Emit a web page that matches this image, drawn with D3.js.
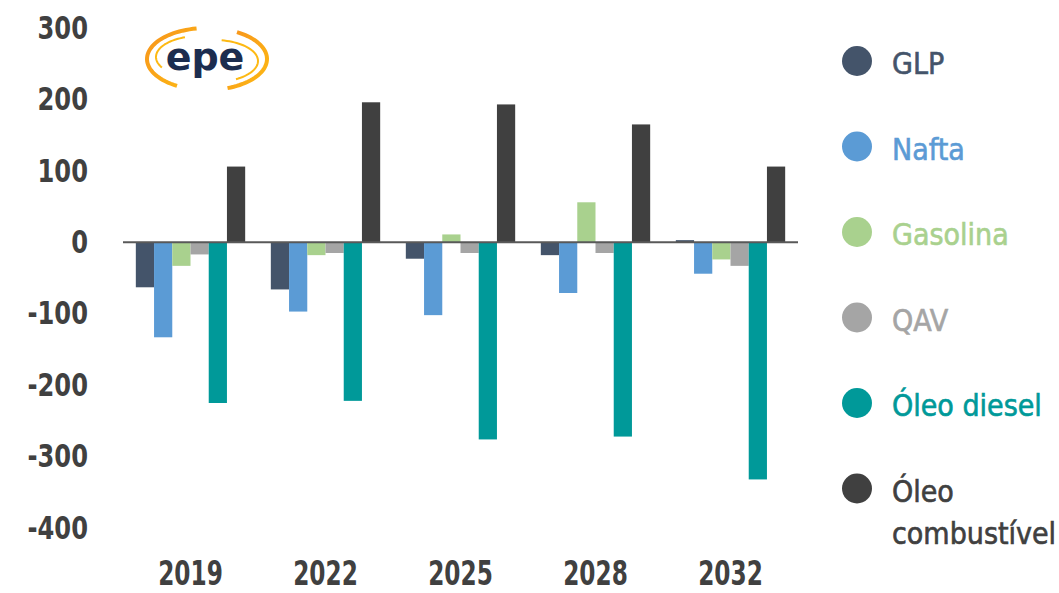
<!DOCTYPE html>
<html>
<head>
<meta charset="utf-8">
<script src="https://cdn.jsdelivr.net/npm/d3@7"></script>
<style>
  body { margin: 0; background: #fff; }
  svg { display: block; }
  .tick text { font-family: "DejaVu Sans Condensed", "DejaVu Sans", sans-serif; font-weight: bold; fill: #404040; }
</style>
</head>
<body>
<div class="chart"></div>
<script>
// data
var years = ["2019", "2022", "2025", "2028", "2032"];
var series = ["GLP", "Nafta", "Gasolina", "QAV", "Óleo diesel", "Óleo combustível"];
var glp = [-63, -66, -23, -18, 3];
var nafta = [-133, -97, -102, -71, -44];
var gasolina = [-33, -18, 11, 56, -24];
var qav = [-17, -15, -15, -15, -33];
var oleoDiesel = [-225, -222, -276, -272, -332];
var oleoComb = [106, 196, 193, 165, 106];
var yTicks = [300, 200, 100, 0, -100, -200, -300, -400];
var colors = ["#44546A", "#5B9BD5", "#A9D18E", "#A5A5A5", "#009999", "#404040"];

var values = [glp, nafta, gasolina, qav, oleoDiesel, oleoComb];
var rows = [];
years.forEach(function(yr, i) {
  series.forEach(function(s, j) {
    rows.push({year: yr, serie: s, value: values[j][i], color: colors[j]});
  });
});

var width = 1059, height = 593;

var svg = d3.select(".chart").append("svg")
    .attr("width", width)
    .attr("height", height);

var x = d3.scaleBand()
    .domain(years)
    .range([123, 798])
    .paddingInner(0.19)
    .paddingOuter(0.095);

var xs = d3.scaleBand()
    .domain(series)
    .range([0, x.bandwidth()]);

var y = d3.scaleLinear()
    .domain([-400, 300])
    .range([528, 28]);

// bars
svg.selectAll(".bar")
    .data(rows)
    .enter().append("rect")
    .attr("class", "bar")
    .attr("x", function(d) { return x(d.year) + xs(d.serie); })
    .attr("width", xs.bandwidth())
    .attr("y", function(d) { return y(Math.max(0, d.value)); })
    .attr("height", function(d) { return Math.abs(y(d.value) - y(0)); })
    .style("fill", function(d) { return d.color; });

// zero line
svg.append("line")
    .attr("x1", 123)
    .attr("x2", 798)
    .attr("y1", y(0))
    .attr("y2", y(0))
    .attr("stroke", "#595959")
    .attr("stroke-width", 2);

// y axis, labels only (squeezed to look like the narrow DIN face)
var yAxis = d3.axisLeft(y)
    .tickValues(yTicks)
    .tickSize(0)
    .tickPadding(35)
    .tickFormat(function(d) { return String(d); });

svg.append("g")
    .attr("class", "y axis")
    .attr("transform", "translate(123,0)")
    .call(yAxis)
    .call(function(g) { g.select(".domain").remove(); })
    .selectAll("text")
    .style("font-size", "32px")
    .attr("transform", "translate(-35,0) scale(0.84,1) translate(35,0)");

// x axis, labels only
var xAxis = d3.axisBottom(x)
    .tickSize(0)
    .tickPadding(0);

svg.append("g")
    .attr("class", "x axis")
    .attr("transform", "translate(0,561)")
    .call(xAxis)
    .call(function(g) { g.select(".domain").remove(); })
    .selectAll("text")
    .style("font-size", "34px")
    .attr("transform", "scale(0.76,1)");

// legend
var legend = svg.selectAll(".legend")
    .data(series)
    .enter().append("g")
    .attr("class", "legend")
    .attr("transform", function(d, i) { return "translate(857," + (61 + i * 85.5) + ")"; });

legend.append("circle")
    .attr("r", 15)
    .style("fill", function(d, i) { return colors[i]; });

legend.append("text")
    .attr("x", 35)
    .attr("y", 13)
    .style("font-family", "'DejaVu Sans Condensed', 'DejaVu Sans', sans-serif")
    .style("font-size", "30px")
    .style("fill", function(d, i) { return colors[i]; })
    .style("stroke", function(d, i) { return colors[i]; })
    .style("stroke-width", 0.6)
    .each(function(d) {
      var t = d3.select(this);
      var parts = d == "Óleo combustível" ? ["Óleo", "combustível"] : [d];
      parts.forEach(function(p, k) {
        t.append("tspan").attr("x", 35).attr("dy", k == 0 ? 0 : 42).text(p);
      });
    });

// epe logo
var logo = svg.append("g").attr("class", "logo");
var grad = svg.append("defs").append("linearGradient")
    .attr("id", "orangeGrad")
    .attr("x1", "0%").attr("x2", "100%")
    .attr("y1", "0%").attr("y2", "100%");
grad.append("stop").attr("offset", "0%").attr("stop-color", "#F7941D");
grad.append("stop").attr("offset", "100%").attr("stop-color", "#FDB913");

function ellipseArc(cx, cy, rx, ry, a0, a1) {
  var pts = d3.range(0, 41).map(function(k) {
    var a = (a0 + (a1 - a0) * k / 40) * Math.PI / 180;
    return [cx + rx * Math.cos(a), cy + ry * Math.sin(a)];
  });
  return d3.line()(pts);
}

logo.append("path")
    .attr("d", ellipseArc(207, 59, 60, 31, 260, 120))
    .attr("fill", "none").attr("stroke", "url(#orangeGrad)").attr("stroke-width", 4);
logo.append("path")
    .attr("d", ellipseArc(207, 59, 60, 31, -60, 70))
    .attr("fill", "none").attr("stroke", "url(#orangeGrad)").attr("stroke-width", 4);
logo.append("path")
    .attr("d", ellipseArc(200, 57, 44, 21, 250, 150))
    .attr("fill", "none").attr("stroke", "#FDB913").attr("stroke-width", 2);
logo.append("path")
    .attr("d", ellipseArc(214, 61, 44, 21, -80, 60))
    .attr("fill", "none").attr("stroke", "#FDB913").attr("stroke-width", 2);

logo.append("text")
    .attr("x", 205)
    .attr("y", 70)
    .attr("text-anchor", "middle")
    .style("font-family", "'DejaVu Sans', sans-serif")
    .style("font-size", "38px")
    .style("font-weight", "bold")
    .style("fill", "#1C2D4F")
    .text("epe");
</script>
</body>
</html>
